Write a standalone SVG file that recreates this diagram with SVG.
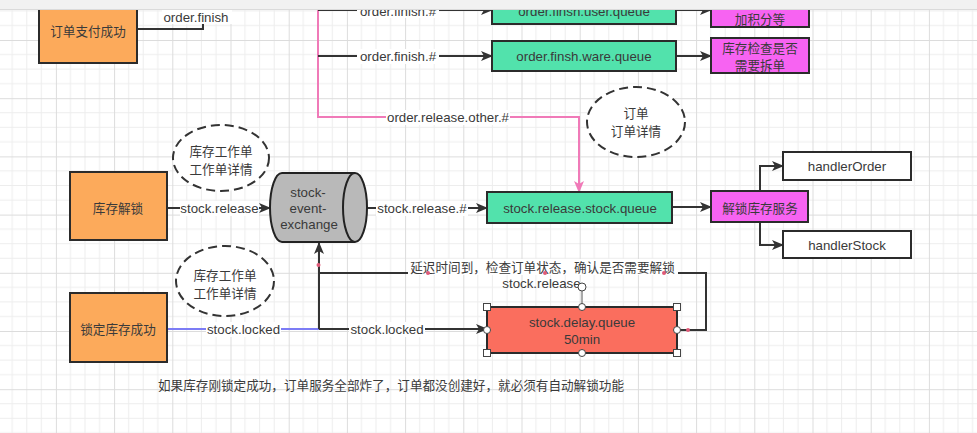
<svg xmlns="http://www.w3.org/2000/svg" width="977" height="433" viewBox="0 0 977 433">
<defs>
<pattern id="grid" x="-2.3" y="-18.2" width="58.2" height="58.2" patternUnits="userSpaceOnUse">
<path d="M0 14.55H58.2M0 29.1H58.2M0 43.65H58.2M14.55 0V58.2M29.1 0V58.2M43.65 0V58.2" stroke="#ededed" stroke-width="1" fill="none"/>
<path d="M0 0.5H58.2M0.5 0V58.2" stroke="#dcdcdc" stroke-width="1" fill="none"/>
</pattern>
<marker id="arr" viewBox="0 0 12 10" refX="11" refY="5" markerWidth="12" markerHeight="10" markerUnits="userSpaceOnUse" orient="auto">
<path d="M0,0 L12,5 L0,10 L3,5 Z" fill="#333"/>
</marker>
<marker id="arrp" viewBox="0 0 12 10" refX="11" refY="5" markerWidth="12" markerHeight="10" markerUnits="userSpaceOnUse" orient="auto">
<path d="M0,0 L12,5 L0,10 L3,5 Z" fill="#f07ab8"/>
</marker>
<style>
.box{stroke:#2b2b2b;stroke-width:2}
.orange{fill:#fcaa5b}
.green{fill:#52e2ac}
.mag{fill:#f763f2}
.white{fill:#fff}
.red{fill:#fa6e5e}
.note{fill:#fff;stroke:#333;stroke-width:2;stroke-dasharray:9 5}
.edge{fill:none;stroke:#333;stroke-width:2}
.pink{fill:none;stroke:#f07ab8;stroke-width:2}
.blue{fill:none;stroke:#7c7cf5;stroke-width:2}
.t{font-family:"Liberation Sans","Noto Sans CJK SC",sans-serif;font-size:13.3px;fill:#3a3a3a;text-anchor:middle;dominant-baseline:central}
.c{font-family:"Noto Sans CJK SC",sans-serif;font-size:12.6px}
.lbg{fill:#fff}
.h{fill:#fff;stroke:#444;stroke-width:1}
.dot{fill:#e05a78}
</style>
</defs>
<rect width="977" height="433" fill="#fff"/>
<rect width="977" height="433" fill="url(#grid)"/>

<g id="connectors">
<path class="edge" d="M137,29 H203 V24"/>
<path class="pink" d="M318,9 V117 H579 V192" marker-end="url(#arrp)"/>
<path class="edge" d="M318,10 H492" marker-end="url(#arr)"/>
<path class="edge" d="M318,56 H492" marker-end="url(#arr)"/>
<path class="edge" d="M676,10 H711" marker-end="url(#arr)"/>
<path class="edge" d="M676,56 H711" marker-end="url(#arr)"/>
<path class="edge" d="M167,208 H270" marker-end="url(#arr)"/>
<path class="edge" d="M367,208 H487" marker-end="url(#arr)"/>
<path class="edge" d="M672,207 H711" marker-end="url(#arr)"/>
<path class="edge" d="M760,191 V166 H783" marker-end="url(#arr)"/>
<path class="edge" d="M760,222 V245 H783" marker-end="url(#arr)"/>
<path class="blue" d="M167,329 H319"/>
<path class="edge" d="M319,329 V243" marker-end="url(#arr)"/>
<path class="edge" d="M319,329 H487" marker-end="url(#arr)"/>
<path class="edge" d="M677,330 H706 V273 H319"/>
<rect class="lbg" x="162" y="9" width="70" height="15"/>
<text class="t" x="196" y="17">order.finish</text>
<rect class="lbg" x="357" y="3" width="82" height="15"/>
<text class="t" x="398" y="11">order.finish.#</text>
<rect class="lbg" x="357" y="49" width="82" height="15"/>
<text class="t" x="398" y="56">order.finish.#</text>
<rect class="lbg" x="386" y="110" width="124" height="15"/>
<text class="t" x="448" y="117">order.release.other.#</text>
<rect class="lbg" x="180" y="201" width="79" height="15"/>
<text class="t" x="219.5" y="208">stock.release</text>
<rect class="lbg" x="376" y="201" width="92" height="15"/>
<text class="t" x="422" y="208">stock.release.#</text>
<rect class="lbg" x="206" y="322" width="75" height="15"/>
<text class="t" x="243.5" y="329">stock.locked</text>
<rect class="lbg" x="349" y="322" width="76" height="15"/>
<text class="t" x="387" y="329">stock.locked</text>
<rect class="lbg" x="408" y="259" width="270" height="16"/>
<text class="t c" x="542.5" y="266">延迟时间到，检查订单状态，确认是否需要解锁</text>
<text class="t" x="541.5" y="283">stock.release</text>
<circle class="dot" cx="318.5" cy="265" r="2"/>
<circle class="dot" cx="428" cy="273" r="2"/>
<circle class="dot" cx="545" cy="273" r="2"/>
<circle class="dot" cx="664" cy="273" r="2"/>
<circle class="dot" cx="688" cy="330" r="2"/>
</g>

<g id="n-pay"><rect class="box orange" x="39" y="-5" width="98" height="68"/><text class="t c" x="88" y="30">订单支付成功</text></g>
<g id="n-user-queue"><rect class="box green" x="492" y="-10" width="184" height="34"/><text class="t" x="584" y="11">order.finsh.user.queue</text></g>
<g id="n-ware-queue"><rect class="box green" x="492" y="41" width="184" height="30"/><text class="t" x="584" y="56">order.finsh.ware.queue</text></g>
<g id="n-points"><rect class="box mag" x="711" y="-10" width="98" height="37"/><text class="t c" x="760" y="18">加积分等</text></g>
<g id="n-split"><rect class="box mag" x="711" y="38" width="98" height="35"/><text class="t c" x="760" y="47">库存检查是否</text><text class="t c" x="760" y="64.5">需要拆单</text></g>
<g id="note-order"><ellipse class="note" cx="636" cy="122" rx="49" ry="35"/><text class="t c" x="636" y="112">订单</text><text class="t c" x="636" y="130">订单详情</text></g>
<g id="n-unlock"><rect class="box orange" x="70" y="172" width="97" height="68"/><text class="t c" x="118" y="207">库存解锁</text></g>
<g id="note-stock1"><ellipse class="note" cx="221" cy="158" rx="48" ry="33"/><text class="t c" x="221" y="150">库存工作单</text><text class="t c" x="221" y="168">工作单详情</text></g>
<g id="n-exchange">
<path d="M282,173 H355 A12,34.5 0 0 1 355,242 H282 A12,34.5 0 0 1 282,173 Z" fill="#b9b9b9" stroke="#222" stroke-width="2"/>
<path d="M355,173 A12,34.5 0 0 0 355,242" fill="none" stroke="#222" stroke-width="2"/>
<text class="t" x="308" y="192">stock-</text><text class="t" x="308" y="208">event-</text><text class="t" x="309" y="224">exchange</text>
</g>
<g id="n-release-queue"><rect class="box green" x="487" y="192" width="185" height="31"/><text class="t" x="580" y="208">stock.release.stock.queue</text></g>
<g id="n-unlock-svc"><rect class="box mag" x="711" y="191" width="97" height="31"/><text class="t c" x="760" y="207">解锁库存服务</text></g>
<g id="n-handler-order"><rect class="box white" x="783" y="152" width="128" height="28"/><text class="t" x="847" y="166">handlerOrder</text></g>
<g id="n-handler-stock"><rect class="box white" x="783" y="231" width="128" height="27"/><text class="t" x="847" y="245">handlerStock</text></g>
<g id="n-locked"><rect class="box orange" x="70" y="293" width="97" height="69"/><text class="t c" x="118" y="328">锁定库存成功</text></g>
<g id="note-stock2"><ellipse class="note" cx="225" cy="281" rx="49" ry="35"/><text class="t c" x="225" y="274">库存工作单</text><text class="t c" x="225" y="292">工作单详情</text></g>
<g id="n-delay">
<rect class="box red" x="487" y="307" width="190" height="46"/>
<text class="t" x="582" y="322">stock.delay.queue</text><text class="t" x="582" y="339">50min</text>
<line x1="582" y1="291" x2="582" y2="307" stroke="#555" stroke-width="1"/>
<circle class="h" cx="582" cy="287" r="4"/>
<rect class="h" x="483.5" y="303.5" width="7" height="7"/>
<rect class="h" x="673.5" y="303.5" width="7" height="7"/>
<rect class="h" x="483.5" y="349.5" width="7" height="7"/>
<rect class="h" x="673.5" y="349.5" width="7" height="7"/>
<circle class="h" cx="582" cy="307" r="3.5"/>
<circle class="h" cx="582" cy="353" r="3.5"/>
<circle class="h" cx="487" cy="330" r="3.5"/>
<circle class="h" cx="677" cy="330" r="3.5"/>
</g>
<g id="caption"><text class="t c" x="158" y="384" style="text-anchor:start">如果库存刚锁定成功，订单服务全部炸了，订单都没创建好，就必须有自动解锁功能</text></g>
<rect x="0" y="0" width="977" height="9" fill="#f1f1f1"/>
<line x1="0" y1="9.5" x2="977" y2="9.5" stroke="#dadada" stroke-width="1"/>
</svg>
